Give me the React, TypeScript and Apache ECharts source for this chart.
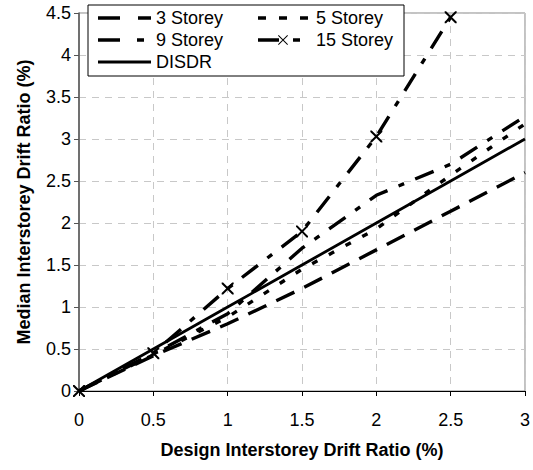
import React, { useEffect, useRef } from "react";
import * as echarts from "echarts";

const xValues = [0, 0.5, 1, 1.5, 2, 2.5, 3];
const storey3 = [0, 0.42, 0.8, 1.22, 1.68, 2.14, 2.6];
const storey5 = [0, 0.43, 0.88, 1.45, 1.93, 2.57, 3.18];
const storey9 = [0, 0.44, 0.92, 1.7, 2.33, 2.7, 3.27];
const storey15 = [0, 0.45, 1.22, 1.9, 3.03, 4.45];
const disdr = [0, 0.5, 1, 1.5, 2, 2.5, 3];

const seriesNames = ["3 Storey", "5 Storey", "9 Storey", "15 Storey", "DISDR"];
const xTitle = "Design Interstorey Drift Ratio (%)";
const yTitle = "Median Interstorey Drift Ratio (%)";

const FONT = 'Arial, "Liberation Sans", sans-serif';
const CROSS =
  "path://M0,0 L1.2,0 L5,3.8 L8.8,0 L10,0 L10,1.2 L6.2,5 L10,8.8 L10,10 L8.8,10 L5,6.2 L1.2,10 L0,10 L0,8.8 L3.8,5 L0,1.2 Z";

// legend sample icons drawn in a 53 x 14 box (corner points fix the bounding box)
const FRAME = "M0,0 L0,0 Z M53,14 L53,14 Z ";
const bar = (a: number, b: number, h = 3.4) => {
  const t = 7 - h / 2;
  const u = 7 + h / 2;
  return `M${a},${t} L${b},${t} L${b},${u} L${a},${u} Z `;
};
const ICON_3 = "path://" + FRAME + bar(0, 22) + bar(40, 53);
const ICON_5 = "path://" + FRAME + bar(0, 8) + bar(21, 29) + bar(42, 50);
const ICON_9 = "path://" + FRAME + bar(0, 22) + bar(39, 46);
const ICON_15 =
  "path://" +
  FRAME +
  bar(0, 21) +
  "M20,2.7 L20.7,2 L30,11.3 L29.3,12 Z M20,11.3 L29.3,2 L30,2.7 L20.7,12 Z " +
  bar(35, 42);
const ICON_D = "path://" + FRAME + bar(0, 53, 2.8);

const pairs = (ys: number[]) => ys.map((y, i) => [xValues[i], y]);

export default function App() {
  const ref = useRef<HTMLDivElement>(null);
  useEffect(() => {
    if (!ref.current) return;
    const chart = echarts.init(ref.current, undefined, { renderer: "svg" });
    const lineBase = (name: string, ys: number[], type: any, width: number) => ({
      name,
      type: "line",
      data: pairs(ys),
      symbol: "none",
      lineStyle: { color: "#000", width, type, cap: "butt" },
      itemStyle: { color: "#000" },
      z: 3,
    });
    const legendCommon = {
      z: 20,
      top: 7,
      orient: "vertical",
      padding: 0,
      itemWidth: 53,
      itemHeight: 14,
      itemGap: 0,
      symbolKeepAspect: false,
      itemStyle: { borderWidth: 0, color: "#000" },
      textStyle: { fontSize: 18, lineHeight: 22, color: "#000", fontFamily: FONT },
    };
    chart.setOption({
      animation: false,
      backgroundColor: "#fff",
      textStyle: { fontFamily: FONT },
      grid: {
        left: 79,
        right: 6,
        top: 13,
        bottom: 79,
        show: true,
        borderColor: "#888",
        borderWidth: 1,
      },
      xAxis: {
        type: "value",
        min: 0,
        max: 3,
        interval: 0.5,
        name: xTitle,
        nameLocation: "middle",
        nameGap: 50,
        nameTextStyle: { fontSize: 18, fontWeight: "bold", color: "#000", fontFamily: FONT },
        axisLine: { lineStyle: { color: "#000", width: 1 } },
        axisTick: { show: true, length: 5, lineStyle: { color: "#000" } },
        axisLabel: { fontSize: 18, color: "#000", margin: 20, fontFamily: FONT },
        splitLine: { show: true, lineStyle: { color: "#c8c8c8", type: [7, 6], width: 1 } },
      },
      yAxis: {
        type: "value",
        min: 0,
        max: 4.5,
        interval: 0.5,
        name: yTitle,
        nameLocation: "middle",
        nameGap: 46,
        nameTextStyle: { fontSize: 18, fontWeight: "bold", color: "#000", fontFamily: FONT },
        axisLine: { show: true, lineStyle: { color: "#555", width: 1.5 } },
        axisTick: { show: true, length: 5, lineStyle: { color: "#555" } },
        axisLabel: { fontSize: 18, color: "#000", margin: 8, fontFamily: FONT },
        splitLine: { show: true, lineStyle: { color: "#c8c8c8", type: [7, 6], width: 1 } },
      },
      graphic: [
        {
          type: "rect",
          z: 10,
          shape: { x: 88, y: 5, width: 316, height: 71 },
          style: { fill: "#fff", stroke: "#000", lineWidth: 1 },
        },
      ],
      legend: [
        {
          ...legendCommon,
          left: 98,
          data: [
            { name: seriesNames[0], icon: ICON_3 },
            { name: seriesNames[2], icon: ICON_9 },
            { name: seriesNames[4], icon: ICON_D },
          ],
        },
        {
          ...legendCommon,
          left: 258,
          data: [
            { name: seriesNames[1], icon: ICON_5 },
            { name: seriesNames[3], icon: ICON_15 },
          ],
        },
      ],
      series: [
        lineBase(seriesNames[0], storey3, [20, 11], 3.4),
        lineBase(seriesNames[1], storey5, [6, 13], 3.4),
        lineBase(seriesNames[2], storey9, [20, 12, 6, 12], 3.4),
        {
          ...lineBase(seriesNames[3], storey15, [20, 12, 6, 12], 3.4),
          symbol: CROSS,
          symbolSize: 12,
          showSymbol: true,
          itemStyle: { color: "#000" },
        },
        lineBase(seriesNames[4], disdr, "solid", 2.8),
      ],
    });
    return () => chart.dispose();
  }, []);
  return <div ref={ref} style={{ width: 533, height: 470, position: "absolute", left: 0, top: 0 }} />;
}
